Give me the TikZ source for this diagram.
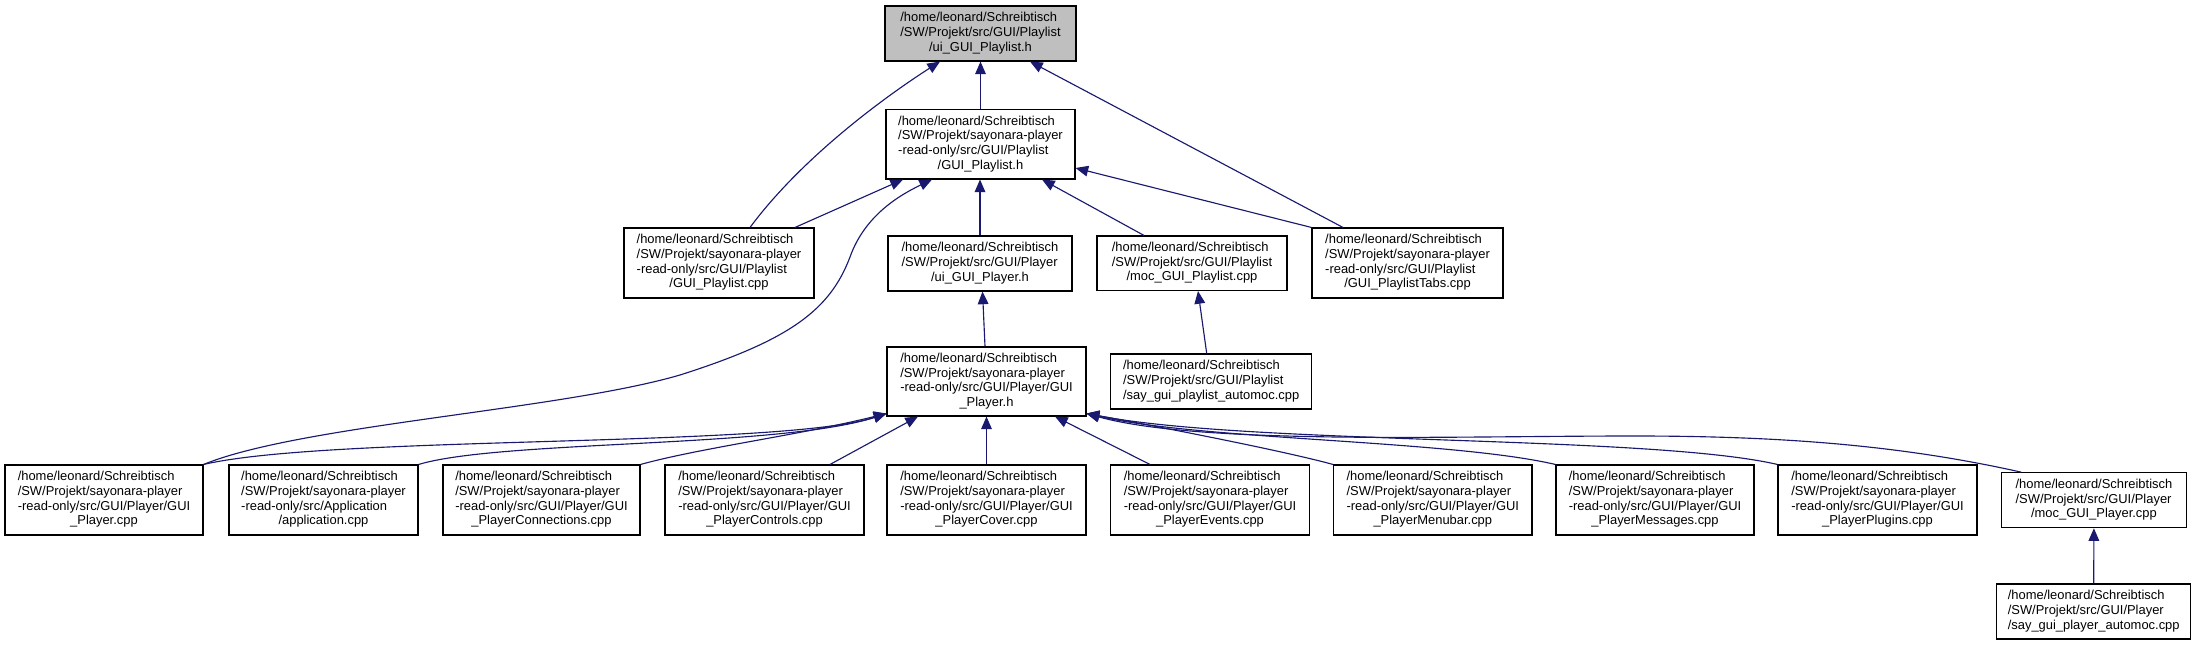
\documentclass[tikz,border=0pt]{standalone}
\usepackage{fontspec}
\setmainfont{Liberation Sans}
\usetikzlibrary{arrows.meta,calc}
\definecolor{edgeblue}{HTML}{191970}
\definecolor{topgray}{HTML}{BFBFBF}
\newcommand\tlab[3]{\begin{tabular}{@{}l@{}}#1\\#2\\\multicolumn{1}{@{}c@{}}{#3}\end{tabular}}
\newcommand\flab[4]{\begin{tabular}{@{}l@{}}#1\\#2\\#3\\\multicolumn{1}{@{}c@{}}{#4}\end{tabular}}
\begin{document}
\begin{tikzpicture}[x=0.75pt,y=-0.75pt,
  filebox/.style={draw=black,line width=0.8pt,fill=white,inner sep=0pt,
    font=\fontsize{9.7}{11}\selectfont},
  smallbox/.style={filebox,minimum height=41.25pt},
  dep/.style={draw=edgeblue,line width=0.85pt,-{Triangle[length=9.5pt,width=8pt]}}]
\useasboundingbox (0,0) rectangle (2197,645);

% ---- nodes ----
\node[smallbox,minimum width=143.25pt,fill=topgray] (top) at (980.5,33.5)
  {\tlab{/home/leonard/Schreibtisch}{/SW/Projekt/src/GUI/Playlist}{/ui\_GUI\_Playlist.h}};
\node[filebox,minimum width=141.75pt,minimum height=52.1pt] (plh) at (980.5,144.25)
  {\flab{/home/leonard/Schreibtisch}{/SW/Projekt/sayonara-player}{-read-only/src/GUI/Playlist}{/GUI\_Playlist.h}};
\node[filebox,minimum width=142.5pt,minimum height=52.5pt] (plcpp) at (719,263)
  {\flab{/home/leonard/Schreibtisch}{/SW/Projekt/sayonara-player}{-read-only/src/GUI/Playlist}{/GUI\_Playlist.cpp}};
\node[smallbox,minimum width=138pt] (uiph) at (980,263.5)
  {\tlab{/home/leonard/Schreibtisch}{/SW/Projekt/src/GUI/Player}{/ui\_GUI\_Player.h}};
\node[smallbox,minimum width=142.5pt,minimum height=40.9pt] (mocpl) at (1192,263.25)
  {\tlab{/home/leonard/Schreibtisch}{/SW/Projekt/src/GUI/Playlist}{/moc\_GUI\_Playlist.cpp}};
\node[filebox,minimum width=143.25pt,minimum height=52.5pt] (tabs) at (1407.5,263)
  {\flab{/home/leonard/Schreibtisch}{/SW/Projekt/sayonara-player}{-read-only/src/GUI/Playlist}{/GUI\_PlaylistTabs.cpp}};
\node[filebox,minimum width=149.25pt,minimum height=51.75pt] (ph) at (986.5,381.5)
  {\flab{/home/leonard/Schreibtisch}{/SW/Projekt/sayonara-player}{-read-only/src/GUI/Player/GUI}{\_Player.h}};
\node[smallbox,minimum width=150.75pt] (sayp) at (1211.2,381.5)
  {\tlab{/home/leonard/Schreibtisch}{/SW/Projekt/src/GUI/Playlist}{/say\_gui\_playlist\_automoc.cpp}};

\node[filebox,minimum width=148.5pt,minimum height=52.5pt] (b1) at (104,500)
  {\flab{/home/leonard/Schreibtisch}{/SW/Projekt/sayonara-player}{-read-only/src/GUI/Player/GUI}{\_Player.cpp}};
\node[filebox,minimum width=141.75pt,minimum height=52.5pt] (b2) at (323.5,500)
  {\flab{/home/leonard/Schreibtisch}{/SW/Projekt/sayonara-player}{-read-only/src/Application}{/application.cpp}};
\node[filebox,minimum width=147.75pt,minimum height=52.5pt] (b3) at (541.5,500)
  {\flab{/home/leonard/Schreibtisch}{/SW/Projekt/sayonara-player}{-read-only/src/GUI/Player/GUI}{\_PlayerConnections.cpp}};
\node[filebox,minimum width=149.25pt,minimum height=52.5pt] (b4) at (764.5,500)
  {\flab{/home/leonard/Schreibtisch}{/SW/Projekt/sayonara-player}{-read-only/src/GUI/Player/GUI}{\_PlayerControls.cpp}};
\node[filebox,minimum width=149.25pt,minimum height=52.5pt] (b5) at (986.5,500)
  {\flab{/home/leonard/Schreibtisch}{/SW/Projekt/sayonara-player}{-read-only/src/GUI/Player/GUI}{\_PlayerCover.cpp}};
\node[filebox,minimum width=149.25pt,minimum height=52.5pt] (b6) at (1210,500)
  {\flab{/home/leonard/Schreibtisch}{/SW/Projekt/sayonara-player}{-read-only/src/GUI/Player/GUI}{\_PlayerEvents.cpp}};
\node[filebox,minimum width=148.8pt,minimum height=52.5pt] (b7) at (1432.8,500)
  {\flab{/home/leonard/Schreibtisch}{/SW/Projekt/sayonara-player}{-read-only/src/GUI/Player/GUI}{\_PlayerMenubar.cpp}};
\node[filebox,minimum width=148.5pt,minimum height=52.5pt] (b8) at (1655,500)
  {\flab{/home/leonard/Schreibtisch}{/SW/Projekt/sayonara-player}{-read-only/src/GUI/Player/GUI}{\_PlayerMessages.cpp}};
\node[filebox,minimum width=149.25pt,minimum height=52.5pt] (b9) at (1877.5,500)
  {\flab{/home/leonard/Schreibtisch}{/SW/Projekt/sayonara-player}{-read-only/src/GUI/Player/GUI}{\_PlayerPlugins.cpp}};
\node[smallbox,minimum width=138.2pt] (b10) at (2093.9,500.2)
  {\tlab{/home/leonard/Schreibtisch}{/SW/Projekt/src/GUI/Player}{/moc\_GUI\_Player.cpp}};
\node[smallbox,minimum width=145.5pt] (b11) at (2093.7,611.5)
  {\tlab{/home/leonard/Schreibtisch}{/SW/Projekt/src/GUI/Player}{/say\_gui\_player\_automoc.cpp}};

% ---- connectors (child -> included file) ----
\draw[dep] (plh.north) -- (top.south);
\draw[dep] ($(plcpp.north)+(31,0)$) .. controls (800,160) and (880,100) .. ($(top.south)+(-40.5,0)$);
\draw[dep] ($(tabs.north)+(-64.5,0)$) -- ($(top.south)+(49.5,0)$);

\draw[dep] ($(plcpp.north)+(76,0)$) -- ($(plh.south)+(-77.5,0)$);
\draw[dep] (b1.north east) .. controls (300,425) and (560,410) .. (680,375)
  .. controls (790,340) and (830,310) .. (850,257)
  .. controls (865,215) and (900,195) .. ($(plh.south)+(-48.5,0)$);
\draw[dep] (uiph.north) -- (uiph.north |- plh.south);
\draw[dep] ($(mocpl.north)+(-48,0)$) -- ($(plh.south)+(61.5,0)$);
\draw[dep] (tabs.north west) -- ($(plh.east)+(0,23.75)$);

\draw[dep] ($(ph.north)+(-1.5,0)$) -- ($(uiph.south)+(2.5,0)$);
\draw[dep] ($(sayp.north)+(-4.5,0)$) -- ($(mocpl.south)+(6,0)$);
\draw[dep] (b11.north) -- (b10.south);

\coordinate (lt) at ($(ph.south west)+(0,-3)$);
\coordinate (rt) at ($(ph.south east)+(0,-3)$);
\draw[dep] (b1.north east) .. controls (330,435) and (780,448) .. (lt);
\draw[dep] (b2.north east) .. controls (500,440) and (780,448) .. (lt);
\draw[dep] (b3.north east) .. controls (700,448) and (800,435) .. (lt);
\draw[dep] ($(b4.north)+(65.5,0)$) -- ($(ph.south)+(-68.5,0)$);
\draw[dep] (b5.north) -- (ph.south);
\draw[dep] ($(b6.north)+(-60,0)$) -- ($(ph.south)+(68.5,0)$);
\draw[dep] (b7.north west) .. controls (1280,450) and (1150,425) .. (rt);
\draw[dep] (b8.north west) .. controls (1450,440) and (1200,440) .. (rt);
\draw[dep] (b9.north west) .. controls (1650,435) and (1250,445) .. (rt);
\draw[dep] ($(b10.north west)+(20,0)$) .. controls (1900,445) and (1780,436) .. (1634,436)
  .. controls (1450,436) and (1200,445) .. (rt);
\end{tikzpicture}
\end{document}
